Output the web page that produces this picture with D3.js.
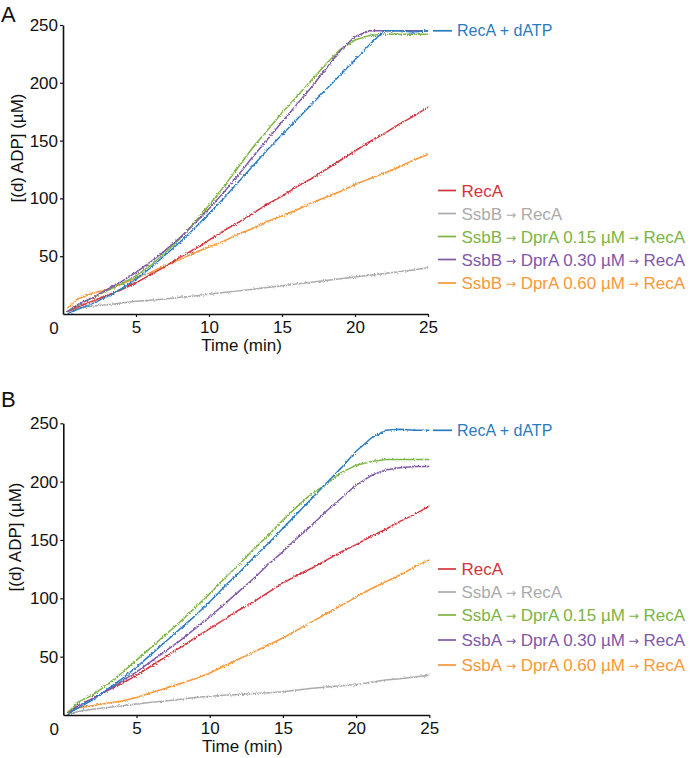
<!DOCTYPE html>
<html><head><meta charset="utf-8">
<script src="https://cdn.jsdelivr.net/npm/d3@7"></script>
<style>body{margin:0;background:#fff} text{font-family:"Liberation Sans",Arial,Helvetica,sans-serif}</style>
</head><body><svg id="c" width="693" height="758">
<defs>
<filter id="rough" x="-5%" y="-5%" width="110%" height="110%">
  <feTurbulence type="fractalNoise" baseFrequency="0.9" numOctaves="1" seed="3" result="n"/>
  <feDisplacementMap in="SourceGraphic" in2="n" scale="3.4" xChannelSelector="R" yChannelSelector="G"/>
</filter>
</defs>
</svg>
<script>
// ---- data ----
const times = [0.3,1,2,3,4,5,6,7,8,9,10,11,12,13,14,15,16,17,18,19,20,21,22,23,24,25];
const xTicks = [5,10,15,20,25];
const yTicks = [50,100,150,200,250];

// Panel A (SsbB)
const A_dATP   = [0,4,9,15,22,30,40,51,62,74,87,100,114,128,142,155,168,181,194,207,220,233,245,245,244,245];
const A_recA   = [2,6,11,16,21,27,34,41,49,56,64,72,79,87,95,102,110,117,125,133,141,149,156,164,171,179];
const A_ssb    = [2,5,7,8,9.5,11,12,13,14.5,15.5,17,18.5,20,21.5,23,24.5,26,27.5,29,30.5,32,33.5,35,36.5,38,40];
const A_d015   = [2,8,14,20,26,33,42,53,65,79,94,110,127,144,159,174,188,202,216,229,237,241,242,242,242,242];
const A_d030   = [2,8,14,21,28,36,45,55,66,78,91,105,120,136,151,166,181,196,212,228,240,245,245,245,245,245];
const A_d060   = [5,13,18,21,26,31,36,42,47,53,58,63,69,74,80,85,90,96,101,106,112,117,122,127,133,138];

// Panel B (SsbA)
const B_dATP   = [1,6,13,22,31,41,52,63,74,85,97,110,122,135,147,160,173,186,199,212,226,237,244,245,244,244];
const B_recA   = [2,8,14,21,27,34,42,50,58,66,74,82,90,97,105,113,120,126,133,140,146,153,159,166,172,179];
const B_ssb    = [0,3,5,6.5,8,9.5,11,12,13.5,15,16,17,17.5,18.5,19,20,21.5,23,24,25,26,28,30,31,32.5,34];
const B_d015   = [2,11,17,26,36,47,58,69,80,92,104,117,129,142,154,167,179,190,198,208,214,217,219,219,219,219];
const B_d030   = [1,8,14,21,29,37,46,55,64,74,84,95,106,117,129,140,152,163,175,186,197,205,210,212,213,213];
const B_d060   = [3,6,8,10,12,15,19,23,27,31,36,42,48,54,60,66,73,80,87,94,101,108,114,120,127,133];

const labelsA = ["RecA","SsbB → RecA","SsbB → DprA 0.15 µM → RecA","SsbB → DprA 0.30 µM → RecA","SsbB → DprA 0.60 µM → RecA"];
const labelsB = ["RecA","SsbA → RecA","SsbA → DprA 0.15 µM → RecA","SsbA → DprA 0.30 µM → RecA","SsbA → DprA 0.60 µM → RecA"];
const dATPLabel = "RecA + dATP";

// ---- styles ----
const col = {blue:"#2a7cc0", red:"#d2343c", gray:"#ababab", green:"#7db444", purple:"#8058a8", orange:"#f99837"};
const legendColors = [col.red, col.gray, col.green, col.purple, col.orange];

const panels = [
  {letter:"A", series:[A_recA,A_ssb,A_d015,A_d030,A_d060], dATP:A_dATP, labels:labelsA,
   x0:63, x1:428, yb:314, yt:25, letterY:22, ylabX:17, ylabY:148, legY:[190.5,213.5,236.5,259.5,283]},
  {letter:"B", series:[B_recA,B_ssb,B_d015,B_d030,B_d060], dATP:B_dATP, labels:labelsB,
   x0:63.3, x1:429.3, yb:715, yt:423.3, letterY:407, ylabX:15, ylabY:537, legY:[569,592,615,640,665]}
];

const svg = d3.select("#c");

panels.forEach(p => {
  const x = d3.scaleLinear().domain([0,25]).range([p.x0,p.x1]);
  const y = d3.scaleLinear().domain([0,250]).range([p.yb,p.yt]);
  const g = svg.append("g");

  g.append("text").attr("x",1).attr("y",p.letterY).attr("font-size",22).attr("fill","#111").text(p.letter);

  const line = d3.line().x((d,i)=>x(times[i])).y(d=>y(d));
  const lines = g.append("g").attr("filter","url(#rough)");
  const order = [1,4,0,2,3];
  order.forEach(k => {
    lines.append("path").datum(p.series[k]).attr("d",line).attr("fill","none")
      .attr("stroke",legendColors[k]).attr("stroke-width",1.5).attr("stroke-linejoin","round");
  });
  lines.append("path").datum(p.dATP).attr("d",line).attr("fill","none")
    .attr("stroke",col.blue).attr("stroke-width",1.5).attr("stroke-linejoin","round");

  const ya = g.append("g").attr("transform",`translate(${p.x0},0)`)
    .call(d3.axisLeft(y).tickValues(yTicks).tickSize(3).tickSizeOuter(0).tickPadding(2));
  const xa = g.append("g").attr("transform",`translate(0,${p.yb})`)
    .call(d3.axisBottom(x).tickValues(xTicks).tickSize(3).tickSizeOuter(0).tickPadding(4));
  [ya,xa].forEach(a=>{
    a.select(".domain").attr("stroke","#111").attr("stroke-width",1.6);
    a.selectAll(".tick line").attr("stroke","#111").attr("stroke-width",1.2);
    a.selectAll(".tick text").attr("font-size",17).attr("fill","#111")
      .attr("font-family",'"Liberation Sans",Arial,sans-serif');
  });
  g.append("text").attr("x",p.x0-9).attr("y",p.yb+20).attr("text-anchor","middle")
    .attr("font-size",17).attr("fill","#111").text("0");

  g.append("text").attr("x",(p.x0+p.x1)/2 - 4).attr("y",p.yb+37).attr("text-anchor","middle")
    .attr("font-size",17).attr("fill","#111").text("Time (min)");
  g.append("text").attr("transform",`translate(${p.ylabX+6},${p.ylabY}) rotate(-90)`)
    .attr("text-anchor","middle").attr("font-size",17).attr("fill","#111").text("[(d) ADP] (µM)");

  const yd = y(p.dATP[p.dATP.length-1]);
  g.append("line").attr("x1",433).attr("x2",452).attr("y1",yd).attr("y2",yd)
    .attr("stroke",col.blue).attr("stroke-width",1.7);
  g.append("text").attr("x",457).attr("y",yd + 5.6).attr("font-size",16)
    .attr("fill",col.blue).text(dATPLabel);

  p.labels.forEach((lab,i) => {
    const ly = p.legY[i];
    g.append("line").attr("x1",438).attr("x2",456).attr("y1",ly).attr("y2",ly)
      .attr("stroke",legendColors[i]).attr("stroke-width",1.7);
    const t = g.append("text").attr("x",461.5).attr("y",ly + 6)
      .attr("font-size",17).attr("fill",legendColors[i]);
    const parts = lab.split("→").map(s=>s.trim());
    parts.forEach((part,j) => {
      if (j>0) t.append("tspan").attr("font-family",'"DejaVu Sans",sans-serif').attr("font-size",12.5)
        .attr("dx",3.5).attr("dy",-1).text("→");
      const s = t.append("tspan").attr("font-size",17).text(part);
      if (j>0) s.attr("dx",4.5).attr("dy",1);
    });
  });
});
</script>
</body></html>
